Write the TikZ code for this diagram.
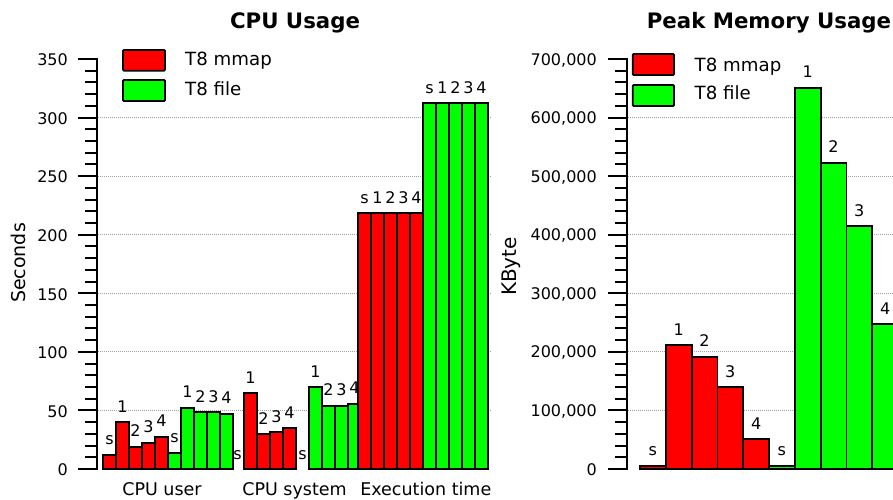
\documentclass[tikz,border=0pt]{standalone}
\usepackage{fontspec}
\setmainfont{DejaVu Sans}
\definecolor{barred}{RGB}{255,0,0}
\definecolor{bargreen}{RGB}{0,255,0}
\definecolor{gridgray}{RGB}{160,160,160}
\tikzset{
  barbox/.style={draw=black, line width=1.8pt},
  mm/.style={barbox, fill=barred},
  ff/.style={barbox, fill=bargreen},
  gridln/.style={draw=gridgray, line width=0.8pt, dash pattern=on 1pt off 1pt},
  axisln/.style={line width=2pt},
  tickln/.style={line width=2pt},
  blab/.style={anchor=base, inner sep=0pt, font=\fontsize{16}{19}\selectfont},
  tlab/.style={anchor=east, inner sep=0pt, font=\fontsize{16}{19}\selectfont},
  ttl/.style={anchor=base, inner sep=0pt, font=\fontsize{21.3}{25}\selectfont\bfseries},
  leg/.style={anchor=base west, inner sep=0pt, font=\fontsize{18.2}{22}\selectfont},
  legbox/.style={draw=black, line width=1.8pt, rounded corners=1pt},
  cat/.style={anchor=base, inner sep=0pt, font=\fontsize{17.5}{21}\selectfont},
  ylab/.style={rotate=90, inner sep=0pt, font=\fontsize{19}{23}\selectfont},
}
\begin{document}
\begin{tikzpicture}[x=1pt,y=-1pt]
\clip (0,0) rectangle (893,499);
\fill[white] (0,0) rectangle (893,499);

% ================= LEFT CHART: CPU Usage =================
\foreach \k in {1,...,6} {
  \pgfmathsetmacro\yy{469-\k*58.571429}
  \draw[gridln] (98,\yy) -- (491,\yy);
}
% bars
\foreach \i/\v/\t in {0/12/s,1/39.9/1,2/19/2,3/22.5/3,4/27.6/4} {
  \pgfmathsetmacro\xa{103+13*\i}
  \pgfmathsetmacro\yt{469-\v*1.171429}
  \draw[mm] (\xa,469) rectangle (\xa+13,\yt);
  \node[blab] (am\i) at (\xa+6.5,\yt-10) {\t};
}
\foreach \i/\v/\t in {0/13.9/s,1/52.3/1,2/48.4/2,3/48.4/3,4/47/4} {
  \pgfmathsetmacro\xa{168+13*\i}
  \pgfmathsetmacro\yt{469-\v*1.171429}
  \draw[ff] (\xa,469) rectangle (\xa+13,\yt);
  \node[blab] (af\i) at (\xa+6.5,\yt-10) {\t};
}
\node[blab] (bm0) at (237.5,459) {s};
\foreach \i/\v/\t in {1/64.6/1,2/29.6/2,3/31.3/3,4/34.7/4} {
  \pgfmathsetmacro\xa{231+13*\i}
  \pgfmathsetmacro\yt{469-\v*1.171429}
  \draw[mm] (\xa,469) rectangle (\xa+13,\yt);
  \node[blab] (bm\i) at (\xa+6.5,\yt-10) {\t};
}
\node[blab] (bf0) at (302.5,459) {s};
\foreach \i/\v/\t in {1/69.7/1,2/53.8/2,3/53.8/3,4/55.7/4} {
  \pgfmathsetmacro\xa{296+13*\i}
  \pgfmathsetmacro\yt{469-\v*1.171429}
  \draw[ff] (\xa,469) rectangle (\xa+13,\yt);
  \node[blab] (bf\i) at (\xa+6.5,\yt-10) {\t};
}
\foreach \i/\t in {0/s,1/1,2/2,3/3,4/4} {
  \pgfmathsetmacro\xa{358+13*\i}
  \pgfmathsetmacro\yt{469-218.3*1.171429}
  \draw[mm] (\xa,469) rectangle (\xa+13,\yt);
  \node[blab] (cm\i) at (\xa+6.5,\yt-10) {\t};
}
\foreach \i/\t in {0/s,1/1,2/2,3/3,4/4} {
  \pgfmathsetmacro\xa{423+13*\i}
  \pgfmathsetmacro\yt{469-312.2*1.171429}
  \draw[ff] (\xa,469) rectangle (\xa+13,\yt);
  \node[blab] (cf\i) at (\xa+6.5,\yt-10) {\t};
}
% axis
\draw[axisln] (97,58) -- (97,470);
\foreach \k in {0,...,35} {
  \pgfmathsetmacro\yy{469-\k*11.714286}
  \draw[tickln] (85,\yy) -- (97,\yy);
}
\foreach \k/\lab in {0/0,1/50,2/100,3/150,4/200,5/250,6/300,7/350} {
  \pgfmathsetmacro\yy{469-\k*58.571429}
  \draw[tickln] (78,\yy) -- (97,\yy);
  \node[tlab] (ltk\k) at (68,\yy+1) {\lab};
}
% texts
\node[ttl] (t1) at (295,28.5) {CPU Usage};
\node[ylab] (yl1) at (18,263) {Seconds};
\node[cat] (c1) at (162,495) {CPU user};
\node[cat] (c2) at (294.5,495) {CPU system};
\node[cat] (c3) at (425.8,495) {Execution time};
% legend
\draw[legbox, fill=barred] (123,50) rectangle (165,70.7);
\draw[legbox, fill=bargreen] (123,80) rectangle (165,101);
\node[leg] (lg1) at (185,65.7) {T8 mmap};
\node[leg] (lg2) at (185,95) {T8 file};

% ================= RIGHT CHART: Peak Memory Usage =================
\foreach \k in {1,...,6} {
  \pgfmathsetmacro\yy{469-\k*58.571429}
  \draw[gridln] (628,\yy) -- (893,\yy);
}
\foreach \i/\v/\t in {0/5.6/s,1/211.7/1,2/191.7/2,3/139.4/3,4/51.2/4} {
  \pgfmathsetmacro\xa{640+25.8*\i}
  \pgfmathsetmacro\yt{469-\v*0.585714}
  \draw[mm] (\xa,469) rectangle (\xa+25.8,\yt);
  \node[blab] (rm\i) at (\xa+12.9,\yt-10) {\t};
}
\foreach \i/\v/\t in {0/5.6/s,1/651/1,2/522.9/2,3/414.8/3,4/247.5/4} {
  \pgfmathsetmacro\xa{769+25.8*\i}
  \pgfmathsetmacro\yt{469-\v*0.585714}
  \draw[ff] (\xa,469) rectangle (\xa+25.8,\yt);
  \node[blab] (rf\i) at (\xa+12.9,\yt-10) {\t};
}
\draw[axisln] (627,58) -- (627,470);
\foreach \k in {0,...,35} {
  \pgfmathsetmacro\yy{469-\k*11.714286}
  \draw[tickln] (615,\yy) -- (627,\yy);
}
\foreach \k/\lab in {0/0,1/{100,000},2/{200,000},3/{300,000},4/{400,000},5/{500,000},6/{600,000},7/{700,000}} {
  \pgfmathsetmacro\yy{469-\k*58.571429}
  \draw[tickln] (608,\yy) -- (627,\yy);
  \node[tlab] (rtk\k) at (597,\yy+1) {\lab};
}
\node[ttl] (t2) at (769,28.5) {Peak Memory Usage};
\node[ylab, font=\fontsize{20}{24}\selectfont] (yl2) at (511.5,266.5) {KByte};
\draw[legbox, fill=barred] (632.7,54) rectangle (674,75);
\draw[legbox, fill=bargreen] (632.7,85) rectangle (674,106);
\node[leg] (lg3) at (694.5,71) {T8 mmap};
\node[leg] (lg4) at (694.5,99) {T8 file};
\end{tikzpicture}
\end{document}
